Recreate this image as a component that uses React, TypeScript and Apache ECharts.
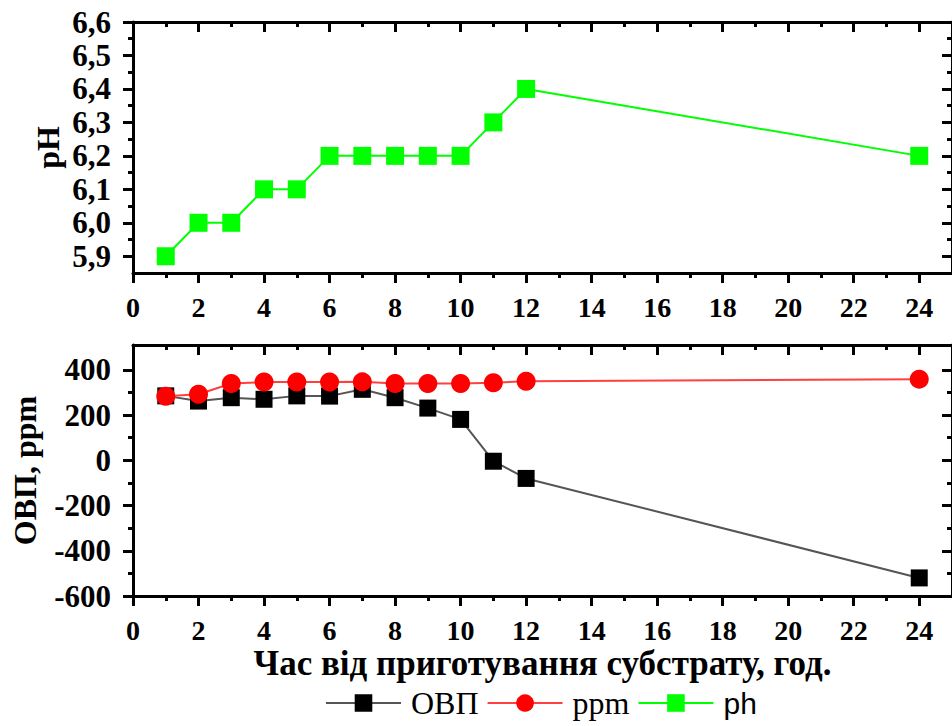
import React, { useEffect, useRef } from "react";
import * as echarts from "echarts";

const hours = [1, 2, 3, 4, 5, 6, 7, 8, 9, 10, 11, 12, 24];
const phValues = [5.9, 6.0, 6.0, 6.1, 6.1, 6.2, 6.2, 6.2, 6.2, 6.2, 6.3, 6.4, 6.2];
const ovpValues = [285, 262, 277, 270, 285, 284, 314, 277, 231, 181, -4, -80, -520];
const ppmValues = [283, 292, 340, 346, 346, 346, 347, 340, 340, 340, 343, 350, 359];

const xMajorTicks = [0, 2, 4, 6, 8, 10, 12, 14, 16, 18, 20, 22, 24];
const xMinorTicks = [1, 3, 5, 7, 9, 11, 13, 15, 17, 19, 21, 23];
const phMajorTicks = [5.9, 6.0, 6.1, 6.2, 6.3, 6.4, 6.5, 6.6];
const phMinorTicks = [5.95, 6.05, 6.15, 6.25, 6.35, 6.45, 6.55];
const ovpMajorTicks = [-600, -400, -200, 0, 200, 400];
const ovpMinorTicks = [-500, -300, -100, 100, 300];

const SERIF = "Liberation Serif";
const SANS = "Liberation Sans";
const LINE = { color: "#000", width: 3 };

function xAxes(grid: number, name?: string) {
  const base = { type: "value", gridIndex: grid, min: 0, max: 25, splitLine: { show: false } };
  return [
    {
      ...base,
      position: "bottom",
      axisLine: { show: true, onZero: false, lineStyle: LINE },
      axisTick: { show: true, inside: false, length: 10, customValues: xMajorTicks, lineStyle: LINE },
      axisLabel: {
        show: true,
        customValues: xMajorTicks,
        margin: 20,
        fontFamily: SERIF,
        fontSize: 28,
        fontWeight: "bold",
        color: "#000",
      },
      ...(name
        ? {
            name,
            nameLocation: "middle",
            nameGap: 50,
            nameTextStyle: { color: "#000", fontSize: 35, fontWeight: "bold", fontFamily: SERIF },
          }
        : {}),
    },
    {
      ...base,
      position: "bottom",
      axisLine: { show: false, onZero: false },
      axisTick: { show: true, inside: false, length: 5, customValues: xMinorTicks, lineStyle: LINE },
      axisLabel: { show: false },
    },
    {
      ...base,
      position: "top",
      axisLine: { show: true, onZero: false, lineStyle: LINE },
      axisTick: { show: true, inside: true, length: 10, customValues: xMajorTicks, lineStyle: LINE },
      axisLabel: { show: false },
    },
    {
      ...base,
      position: "top",
      axisLine: { show: false, onZero: false },
      axisTick: { show: true, inside: true, length: 5, customValues: xMinorTicks, lineStyle: LINE },
      axisLabel: { show: false },
    },
  ];
}

function yAxes(
  grid: number,
  min: number,
  max: number,
  major: number[],
  minor: number[],
  fmt: (v: number) => string,
  name: string,
  nameGap: number
) {
  const base = { type: "value", gridIndex: grid, min, max, splitLine: { show: false } };
  return [
    {
      ...base,
      position: "left",
      axisLine: { show: true, onZero: false, lineStyle: LINE },
      axisTick: { show: true, inside: false, length: 10, customValues: major, lineStyle: LINE },
      axisLabel: {
        show: true,
        customValues: major,
        margin: 22,
        formatter: fmt,
        fontFamily: SERIF,
        fontSize: 31,
        fontWeight: "bold",
        color: "#000",
      },
      name,
      nameLocation: "middle",
      nameGap,
      nameMoveOverlap: false,
      nameTextStyle: { color: "#000", fontSize: 32, fontWeight: "bold", fontFamily: SERIF },
    },
    {
      ...base,
      position: "left",
      axisLine: { show: false, onZero: false },
      axisTick: { show: true, inside: false, length: 5, customValues: minor, lineStyle: LINE },
      axisLabel: { show: false },
    },
    {
      ...base,
      position: "right",
      axisLine: { show: true, onZero: false, lineStyle: LINE },
      axisTick: { show: true, inside: true, length: 10, customValues: major, lineStyle: LINE },
      axisLabel: { show: false },
    },
    {
      ...base,
      position: "right",
      axisLine: { show: false, onZero: false },
      axisTick: { show: true, inside: true, length: 5, customValues: minor, lineStyle: LINE },
      axisLabel: { show: false },
    },
  ];
}

export default function App() {
  const ref = useRef<HTMLDivElement>(null);

  useEffect(() => {
    if (!ref.current) return;
    const chart = echarts.init(ref.current, null, { renderer: "svg" });

    const legendText = (family: string, size: number) => ({
      color: "#000",
      fontFamily: family,
      fontSize: size,
      rich: { a: { color: "#000", fontFamily: family, fontSize: size, padding: [0, 0, 0, 5] } },
    });

    const option = {
      animation: false,
      backgroundColor: "#fff",
      grid: [
        { left: 133, top: 22, width: 826, height: 251 },
        { left: 133, top: 345, width: 826, height: 251 },
      ],
      xAxis: [...xAxes(0), ...xAxes(1, "Час від приготування субстрату, год.")],
      yAxis: [
        ...yAxes(0, 5.85, 6.6, phMajorTicks, phMinorTicks, (v: number) => v.toFixed(1).replace(".", ","), "pH", 69),
        ...yAxes(1, -600, 510, ovpMajorTicks, ovpMinorTicks, (v: number) => String(Math.round(v)), "ОВП, ppm", 92),
      ],
      legend: {
        left: 325,
        top: 687,
        padding: 0,
        itemWidth: 75,
        itemHeight: 22,
        itemGap: 8,
        formatter: (n: string) => `{a|${n}}`,
        data: [
          { name: "ОВП", textStyle: legendText(SERIF, 32) },
          { name: "ppm", textStyle: legendText(SERIF, 32) },
          { name: "ph", textStyle: legendText(SANS, 30) },
        ],
      },
      series: [
        {
          name: "ph",
          type: "line",
          xAxisIndex: 0,
          yAxisIndex: 0,
          data: hours.map((h, i) => [h, phValues[i]]),
          symbol: "rect",
          symbolSize: 18,
          itemStyle: { color: "#00ff00" },
          lineStyle: { color: "#00ff00", width: 2 },
        },
        {
          name: "ОВП",
          type: "line",
          xAxisIndex: 4,
          yAxisIndex: 4,
          data: hours.map((h, i) => [h, ovpValues[i]]),
          symbol: "rect",
          symbolSize: 17,
          itemStyle: { color: "#000" },
          lineStyle: { color: "#555", width: 2 },
        },
        {
          name: "ppm",
          type: "line",
          xAxisIndex: 4,
          yAxisIndex: 4,
          data: hours.map((h, i) => [h, ppmValues[i]]),
          symbol: "circle",
          symbolSize: 19,
          itemStyle: { color: "#ff0000" },
          lineStyle: { color: "#ff4040", width: 2 },
        },
      ],
    };

    chart.setOption(option as any);
    return () => chart.dispose();
  }, []);

  return (
    <div
      ref={ref}
      style={{ position: "fixed", left: 0, top: 0, width: 952, height: 726, background: "#fff" }}
    />
  );
}
